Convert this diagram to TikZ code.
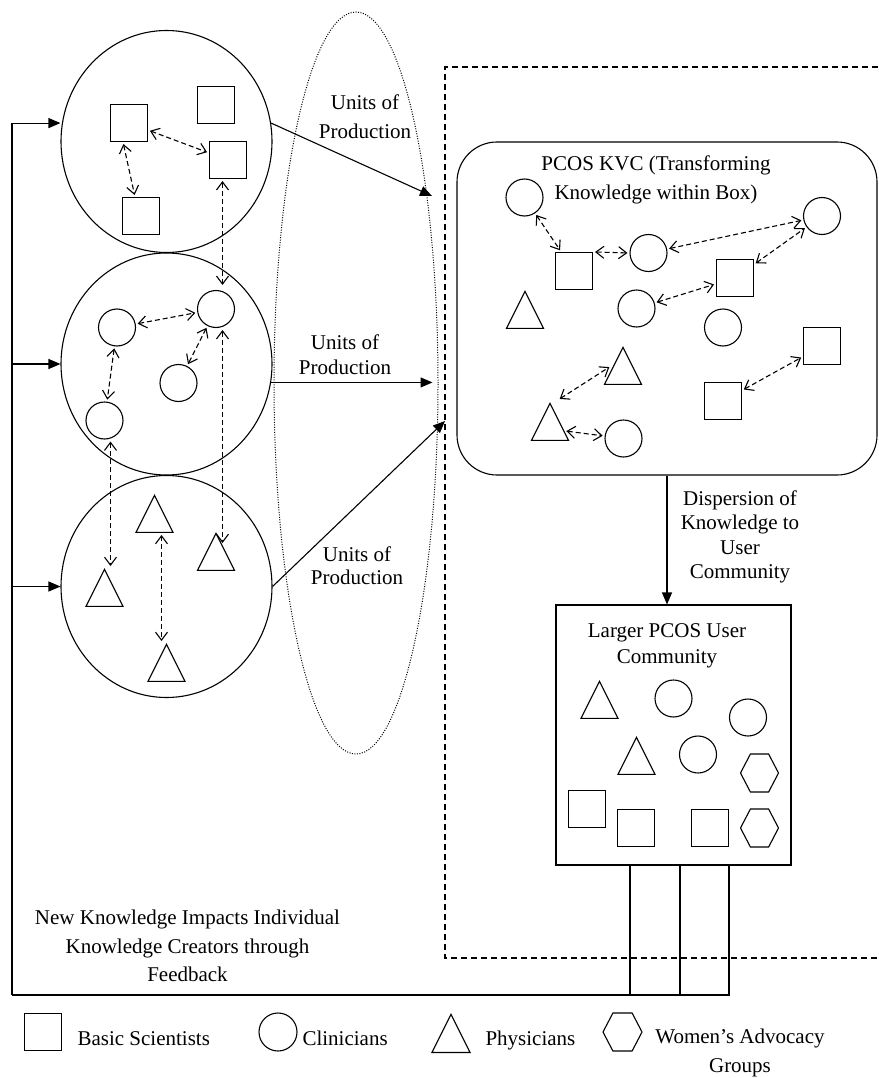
\documentclass[tikz,border=0pt]{standalone}
\usepackage{fontspec}
\setmainfont{Liberation Serif}
\usetikzlibrary{arrows.meta,shapes.geometric,shapes.symbols}
\newcommand\txtsize[1]{\fontsize{21pt}{#1pt}\selectfont}

\begin{document}
\begin{tikzpicture}[x=1pt,y=-1pt,line width=1.1pt,
    >={Straight Barb[length=8pt,width=12pt]},
    sq/.style={draw,minimum size=37pt,inner sep=0pt},
    cl/.style={draw,circle,minimum size=37pt,inner sep=0pt},
    tri/.style={draw,isosceles triangle,isosceles triangle stretches,shape border rotate=90,
        minimum width=37pt,minimum height=37pt,inner sep=0pt,anchor=apex},
    hexa/.style={draw,signal,signal to=east and west,signal pointer angle=125,
        minimum width=38pt,minimum height=38pt,inner sep=0pt},
    grp/.style={draw,ellipse,minimum width=211pt,minimum height=222pt},
    dlink/.style={<->,line width=1.1pt,dash pattern=on 5pt off 3pt,shorten <=2pt,shorten >=2pt},
    flowarrow/.style={-{Triangle[length=12pt,width=10pt]}},
    lbl/.style={align=center,inner sep=0pt}]

    \useasboundingbox (0,0) rectangle (878,1078);

    % knowledge creator groups
    \node[grp] (g1) at (166.5,141.5) {};
    \node[grp] (g2) at (166.5,364) {};
    \node[grp] (g3) at (166.5,586.5) {};

    \node[sq] (s1) at (129,123) {};
    \node[sq] (s2) at (216,105) {};
    \node[sq] (s3) at (228,160) {};
    \node[sq] (s4) at (141,216) {};

    \node[cl] (c1) at (117,327.5) {};
    \node[cl] (c2) at (216,309) {};
    \node[cl] (c3) at (178.5,383) {};
    \node[cl] (c4) at (104.5,420.5) {};

    \node[tri] (t1) at (154.5,494) {};
    \node[tri] (t2) at (216,532) {};
    \node[tri] (t3) at (104.5,568) {};
    \node[tri] (t4) at (166.5,643) {};

    \draw[dlink] (s1) -- (s3);
    \draw[dlink] ([xshift=-6pt]s1.south) -- ([xshift=-6pt]s4.north);
    \draw[dlink] ([xshift=-5.5pt]s3.south) -- ([xshift=6.5pt,yshift=3pt]c2.north);
    \draw[dlink] (c1) -- (c2);
    \draw[dlink] (c2) -- (c3);
    \draw[dlink] (c1) -- (c4);
    \draw[dlink] ([xshift=6.5pt]c2.south) -- ([xshift=6.5pt,yshift=-13pt]t2.apex);
    \draw[dlink] ([xshift=6pt]c4.south) -- ([xshift=6pt]t3.apex);
    \draw[dlink] ([xshift=7pt]t1.lower side) -- ([xshift=-5pt]t4.apex);

    % units of production
    \node[draw,ellipse,line width=1pt,dash pattern=on 1pt off 1.5pt,
        minimum width=164pt,minimum height=742pt] (uop) at (356,383) {};
    \coordinate (u1) at (432,196);
    \coordinate (u3) at (445,421);
    \draw[flowarrow] (g1.10) -- (u1);
    \draw[flowarrow] (g2.-10) -- ([xshift=-6pt]g2.-10 -| uop.east);
    \draw[flowarrow] (g3.east) -- (u3);
    \node[lbl,font=\txtsize{29}] (up1) at (365,117) {Units of\\Production};
    \node[lbl,font=\txtsize{25}] (up2) at (345,355) {Units of\\Production};
    \node[lbl,font=\txtsize{23}] (up3) at (357,566) {Units of\\Production};

    \draw[line width=1.1pt,dash pattern=on 6pt off 4pt] (878,67) -- (445,67) -- (445,958) -- (878,958);

    % PCOS KVC
    \node[draw,rounded corners=40pt,minimum width=420pt,minimum height=333pt] (kvc) at (667,308.5) {};
    \node[lbl,font=\txtsize{29}] (kvct) at (656,180) {PCOS KVC (Transforming\\Knowledge within Box)};

    \node[cl] (ka) at (524.5,197.5) {};
    \node[sq] (ksa) at (574,271) {};
    \node[cl] (kb) at (648.5,253) {};
    \node[cl] (kc) at (822,216) {};
    \node[sq] (ksb) at (735,278) {};
    \node[tri] (kta) at (525,290) {};
    \node[cl] (kd) at (636.5,308.5) {};
    \node[cl] (ke) at (723,327.5) {};
    \node[sq] (ksc) at (822,346) {};
    \node[tri] (ktb) at (623,346) {};
    \node[sq] (ksd) at (723,401) {};
    \node[tri] (ktc) at (550,402) {};
    \node[cl] (kf) at (623.5,438.5) {};

    \draw[dlink] (ka) -- (ksa);
    \draw[dlink] (ksa.north east) -- (kb.west);
    \draw[dlink] (kb) -- (kc);
    \draw[dlink] (ksb) -- (kc);
    \draw[dlink] (kd) -- (ksb);
    \draw[dlink] (ksd) -- (ksc);
    \draw[dlink] ([xshift=8pt,yshift=2pt]ktc.apex) -- ([xshift=-12pt,yshift=-20pt]ktb.apex);
    \draw[dlink] (ktc) -- (kf);

    % user community
    \node[draw,minimum width=235pt,minimum height=260pt] (ub) at (673.5,735) {};
    \node[lbl,font=\txtsize{26}] (ubt) at (667,646) {Larger PCOS User\\Community};
    \draw[flowarrow] (kvc.south) -- (kvc.south |- ub.north);
    \node[lbl,font=\txtsize{24.5}] (disp) at (740,537) {Dispersion of\\Knowledge to\\User\\Community};

    \node[tri] (ut1) at (599.5,680) {};
    \node[cl] (uc1) at (673.5,698.5) {};
    \node[cl] (uc2) at (748,717.5) {};
    \node[tri] (ut2) at (636.5,736) {};
    \node[cl] (uc3) at (698,754.5) {};
    \node[hexa] (uh1) at (759.5,773) {};
    \node[sq] (us1) at (587,809) {};
    \node[sq] (us2) at (636,828) {};
    \node[sq] (us3) at (710,828) {};
    \node[hexa] (uh2) at (759.5,828) {};

    % feedback
    \coordinate (fb) at (12,995);
    \foreach \x in {-43.5,6.5,55.5}
        \draw ([xshift=\x pt]ub.south) |- (fb);
    \draw (fb) -- (fb |- g1.10);
    \draw[flowarrow] (fb |- g1.10) -- (g1.10 -| g1.west);
    \draw[flowarrow] (fb |- g2.west) -- (g2.west);
    \draw[flowarrow] (fb |- g3.west) -- (g3.west);
    \node[lbl,font=\txtsize{28.5}] (fbt) at (187.5,946) {New Knowledge Impacts Individual\\Knowledge Creators through\\Feedback};

    % legend
    \node[sq] (lsq) at (43,1032) {};
    \node[anchor=base west,inner sep=0pt,font=\txtsize{29}] (lsqt) at (77,1045) {Basic Scientists};
    \node[cl,minimum size=38pt] (lcl) at (278,1032) {};
    \node[anchor=base west,inner sep=0pt,font=\txtsize{29}] (lclt) at (302,1045) {Clinicians};
    \node[tri,minimum width=38pt,minimum height=38pt] (ltr) at (451,1013) {};
    \node[anchor=base west,inner sep=0pt,font=\txtsize{29}] (ltrt) at (485,1045) {Physicians};
    \node[hexa,minimum width=39pt] (lhx) at (622.5,1032) {};
    \node[lbl,font=\txtsize{29}] (lhxt) at (740,1053) {Women’s Advocacy\\Groups};
\end{tikzpicture}
\end{document}
